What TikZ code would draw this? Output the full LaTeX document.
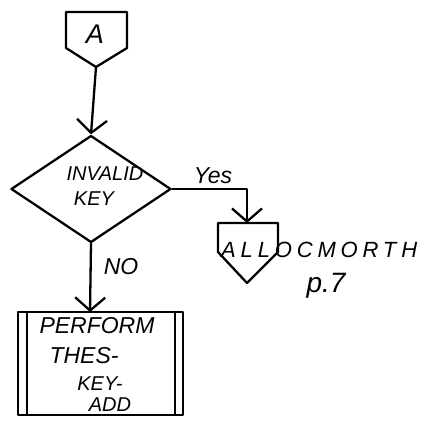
\documentclass[tikz,border=0pt]{standalone}
\usepackage{fontspec}
\setmainfont{Liberation Sans}
\usetikzlibrary{arrows.meta,shapes.geometric}
\begin{document}
\begin{tikzpicture}[x=1pt,y=-1pt,
  ink/.style={line width=2.3pt,line join=round,line cap=round},
  flow/.style={ink,-{Straight Barb[length=13pt,width=30pt,line width=2.3pt]}},
  hand/.style={font=\fontsize{23}{23}\selectfont\itshape,inner sep=0pt},
  small/.style={font=\fontsize{20}{20}\selectfont\itshape,inner sep=0pt}]
\useasboundingbox (0,0) rectangle (427,424);
% off-page connector A
\draw[ink] (66,12) -- (127,12) -- (127,48) -- (96,67) -- (66,48) -- cycle;
\node[hand,font=\fontsize{27}{27}\selectfont\itshape] (A) at (95,34) {A};
\coordinate (Abot) at (96,67);
% decision
\node[diamond,draw,ink,minimum width=160pt,minimum height=107pt,inner sep=0pt] (d) at (91,189) {};
\node[small] (inv) at (105,174) {INVALID};
\node[small] (key) at (94,199) {KEY};
% off-page connector ALLOCMORTH
\draw[ink] (218,223) -- (278,223) -- (278,252) -- (247,283) -- (218,252) -- cycle;
\coordinate (ctop) at (247,223);
\node[hand,anchor=west,font=\fontsize{22}{22}\selectfont\itshape\addfontfeature{LetterSpace=22}] (alloc) at (221,250) {ALLOCMORTH};
\node[hand,font=\fontsize{28}{28}\selectfont\itshape] (page) at (326,286) {p.7};
% predefined process
\draw[ink] (18,312) rectangle (183,415);
\draw[ink] (27,312) -- (27,415);
\draw[ink] (175,312) -- (175,415);
\coordinate (boxtop) at (90,312);
\node[hand] (l1) at (97,326) {PERFORM};
\node[hand] (l2) at (84,356) {THES-};
\node[small] (l3) at (100,384) {KEY-};
\node[small] (l4) at (110,405) {ADD};
% connectors
\draw[flow] (Abot) -- (d.north);
\draw[flow] (d.east) -- (ctop |- d.east) -- (ctop);
\node[hand] (yes) at (213,176) {Yes};
\draw[flow] (d.south) -- (boxtop);
\node[hand] (no) at (121,267) {NO};
\end{tikzpicture}
\end{document}
